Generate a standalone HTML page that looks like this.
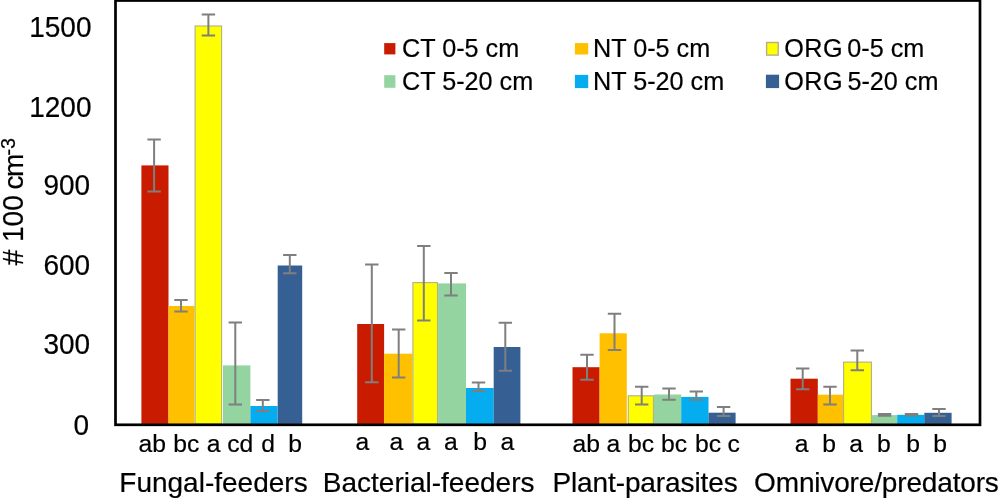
<!DOCTYPE html>
<html lang="en">
<head>
<meta charset="utf-8">
<title>Nematode feeding groups chart</title>
<style>
html,body{margin:0;padding:0;background:#fff;}
body{width:1000px;height:499px;overflow:hidden;}
svg{display:block;will-change:transform;}
text{font-family:"Liberation Sans",Arial,Helvetica,sans-serif;fill:#000;stroke:#000;stroke-width:0.2px;}
.tick{font-size:28px;text-anchor:end;}
.leg{font-size:25.2px;}
.let{font-size:24.7px;}
.cat{font-size:28px;}
.yl{font-size:28px;}
.sup{font-size:19.6px;}
</style>
</head>
<body>
<svg width="1000" height="499" viewBox="0 0 1000 499">
<rect x="0" y="0" width="1000" height="499" fill="#ffffff"/>

<g>
<rect x="141.40" y="165.40" width="27.10" height="258.50" fill="#c81b00"/>
<rect x="168.50" y="306.00" width="26.00" height="117.90" fill="#ffc000"/>
<rect x="195.10" y="26.00" width="26.50" height="398.00" fill="#ffff00" stroke="#b3b088" stroke-width="1.1"/>
<rect x="223.00" y="365.40" width="27.40" height="58.50" fill="#93d4a1"/>
<rect x="250.40" y="406.00" width="27.20" height="17.90" fill="#05acf0"/>
<rect x="277.70" y="265.50" width="24.50" height="158.40" fill="#365f93"/>
<rect x="357.20" y="324.00" width="26.90" height="99.90" fill="#c81b00"/>
<rect x="384.10" y="353.70" width="28.20" height="70.20" fill="#ffc000"/>
<rect x="412.90" y="282.60" width="24.60" height="141.40" fill="#ffff00" stroke="#b3b088" stroke-width="1.1"/>
<rect x="438.10" y="283.40" width="27.90" height="140.50" fill="#93d4a1"/>
<rect x="466.00" y="388.00" width="27.70" height="35.90" fill="#05acf0"/>
<rect x="493.70" y="347.00" width="26.70" height="76.90" fill="#365f93"/>
<rect x="572.50" y="367.20" width="27.10" height="56.70" fill="#c81b00"/>
<rect x="599.60" y="333.30" width="27.20" height="90.60" fill="#ffc000"/>
<rect x="628.30" y="395.80" width="25.10" height="28.20" fill="#ffff00" stroke="#b3b088" stroke-width="1.1"/>
<rect x="654.00" y="394.50" width="27.20" height="29.40" fill="#93d4a1"/>
<rect x="681.20" y="396.90" width="27.30" height="27.00" fill="#05acf0"/>
<rect x="708.50" y="412.70" width="27.10" height="11.20" fill="#365f93"/>
<rect x="790.50" y="378.70" width="27.30" height="45.20" fill="#c81b00"/>
<rect x="817.80" y="394.70" width="25.20" height="29.20" fill="#ffc000"/>
<rect x="843.60" y="362.10" width="27.80" height="61.90" fill="#ffff00" stroke="#b3b088" stroke-width="1.1"/>
<rect x="871.80" y="415.10" width="25.40" height="8.80" fill="#93d4a1"/>
<rect x="897.20" y="414.80" width="27.10" height="9.10" fill="#05acf0"/>
<rect x="924.30" y="412.80" width="27.30" height="11.10" fill="#365f93"/>
</g>
<g stroke="#7f7f7f" stroke-width="2" fill="none">
<path d="M154.10 139.40V191.40M147.40 139.40H160.80M147.40 191.40H160.80"/>
<path d="M181.00 300.00V311.60M174.30 300.00H187.70M174.30 311.60H187.70"/>
<path d="M208.40 14.60V35.40M201.70 14.60H215.10M201.70 35.40H215.10"/>
<path d="M235.30 322.60V404.60M228.60 322.60H242.00M228.60 404.60H242.00"/>
<path d="M262.80 400.00V411.00M256.10 400.00H269.50M256.10 411.00H269.50"/>
<path d="M289.80 255.00V273.20M283.10 255.00H296.50M283.10 273.20H296.50"/>
<path d="M371.80 264.40V382.20M365.10 264.40H378.50M365.10 382.20H378.50"/>
<path d="M398.70 329.50V377.60M392.00 329.50H405.40M392.00 377.60H405.40"/>
<path d="M423.80 246.00V320.60M417.10 246.00H430.50M417.10 320.60H430.50"/>
<path d="M451.00 273.00V295.60M444.30 273.00H457.70M444.30 295.60H457.70"/>
<path d="M478.50 382.40V391.00M471.80 382.40H485.20M471.80 391.00H485.20"/>
<path d="M505.30 322.80V370.70M498.60 322.80H512.00M498.60 370.70H512.00"/>
<path d="M587.00 354.70V379.70M580.30 354.70H593.70M580.30 379.70H593.70"/>
<path d="M614.50 313.80V350.00M607.80 313.80H621.20M607.80 350.00H621.20"/>
<path d="M641.70 386.80V404.60M635.00 386.80H648.40M635.00 404.60H648.40"/>
<path d="M669.00 388.60V399.80M662.30 388.60H675.70M662.30 399.80H675.70"/>
<path d="M696.30 391.40V399.80M689.60 391.40H703.00M689.60 399.80H703.00"/>
<path d="M723.60 407.10V415.90M716.90 407.10H730.30M716.90 415.90H730.30"/>
<path d="M802.70 368.40V389.20M796.00 368.40H809.40M796.00 389.20H809.40"/>
<path d="M830.00 386.70V404.50M823.30 386.70H836.70M823.30 404.50H836.70"/>
<path d="M857.30 350.40V370.30M850.60 350.40H864.00M850.60 370.30H864.00"/>
<path d="M884.60 414.00V415.80M877.90 414.00H891.30M877.90 415.80H891.30"/>
<path d="M911.50 413.90V415.60M904.80 413.90H918.20M904.80 415.60H918.20"/>
<path d="M939.00 409.10V416.00M932.30 409.10H945.70M932.30 416.00H945.70"/>
</g>
<rect x="115.5" y="0.5" width="864.5" height="424.3" fill="none" stroke="#000" stroke-width="2.7"/>
<text class="tick" transform="translate(91.50 36.70) scale(1 1.03)">1500</text>
<text class="tick" transform="translate(91.50 116.70) scale(1 1.03)">1200</text>
<text class="tick" transform="translate(90.10 195.30) scale(1 1.03)">900</text>
<text class="tick" transform="translate(90.10 275.30) scale(1 1.03)">600</text>
<text class="tick" transform="translate(90.10 354.20) scale(1 1.03)">300</text>
<text class="tick" transform="translate(89.00 434.60) scale(1 1.03)">0</text>
<text class="yl" transform="translate(23.30 265.30) rotate(-90) scale(1 1.04)"># 100</text>
<text class="yl" transform="translate(23.30 189.60) rotate(-90) scale(1 1.0)" textLength="36.02">cm</text>
<text class="sup" transform="translate(14.50 155.40) rotate(-90) scale(1 1.0)">-3</text>
<rect x="384.2" y="43.1" width="11.2" height="11.3" fill="#c81b00"/>
<rect x="384.2" y="75.2" width="11.2" height="12.6" fill="#93d4a1"/>
<rect x="574.9" y="43.1" width="13.3" height="11.4" fill="#ffc000"/>
<rect x="574.9" y="74.9" width="13.3" height="13.2" fill="#05acf0"/>
<rect x="766.60" y="42.50" width="11.60" height="12.60" fill="#ffff00" stroke="#b3b088" stroke-width="1.4"/>
<rect x="765.9" y="74.7" width="13.2" height="13.4" fill="#365f93"/>
<text class="leg" transform="translate(402.00 57.10) scale(1 1.03)">CT 0-5 cm</text>
<text class="leg" transform="translate(402.00 89.80) scale(1 1.03)">CT 5-20 cm</text>
<text class="leg" transform="translate(593.00 57.10) scale(1 1.03)">NT 0-5 cm</text>
<text class="leg" transform="translate(593.00 89.80) scale(1 1.03)">NT 5-20 cm</text>
<text class="leg" transform="translate(784.30 57.10) scale(1 1.03)" letter-spacing="0.4">ORG</text>
<text class="leg" transform="translate(847.30 57.10) scale(1 1.03)">0-5 cm</text>
<text class="leg" transform="translate(784.30 89.80) scale(1 1.03)" letter-spacing="0.4">ORG</text>
<text class="leg" transform="translate(847.40 89.80) scale(1 1.03)">5-20 cm</text>
<text class="let" transform="translate(138.40 451.50) scale(1 1.0)">ab</text>
<text class="let" transform="translate(173.36 451.50) scale(1 1.0)">bc</text>
<text class="let" transform="translate(206.85 451.50) scale(1 1.0)">a</text>
<text class="let" transform="translate(227.20 451.50) scale(1 1.0)">cd</text>
<text class="let" transform="translate(261.16 451.50) scale(1 1.0)">d</text>
<text class="let" transform="translate(288.26 451.50) scale(1 1.0)">b</text>
<text class="let" transform="translate(355.45 450.40) scale(1 1.0)">a</text>
<text class="let" transform="translate(389.45 450.40) scale(1 1.0)">a</text>
<text class="let" transform="translate(416.60 450.40) scale(1 1.0)">a</text>
<text class="let" transform="translate(444.05 450.40) scale(1 1.0)">a</text>
<text class="let" transform="translate(473.36 450.40) scale(1 1.0)">b</text>
<text class="let" transform="translate(500.45 450.40) scale(1 1.0)">a</text>
<text class="let" transform="translate(572.40 451.50) scale(1 1.0)">ab</text>
<text class="let" transform="translate(606.60 451.50) scale(1 1.0)">a</text>
<text class="let" transform="translate(628.06 451.50) scale(1 1.0)">bc</text>
<text class="let" transform="translate(661.06 451.50) scale(1 1.0)">bc</text>
<text class="let" transform="translate(695.06 451.50) scale(1 1.0)">bc</text>
<text class="let" transform="translate(727.50 451.50) scale(1 1.0)">c</text>
<text class="let" transform="translate(794.85 451.60) scale(1 1.0)">a</text>
<text class="let" transform="translate(822.31 451.60) scale(1 1.0)">b</text>
<text class="let" transform="translate(849.25 451.60) scale(1 1.0)">a</text>
<text class="let" transform="translate(876.91 451.60) scale(1 1.0)">b</text>
<text class="let" transform="translate(906.36 451.60) scale(1 1.0)">b</text>
<text class="let" transform="translate(933.31 451.60) scale(1 1.0)">b</text>
<text class="cat" transform="translate(119.30 491.50) scale(1 1.0)">Fungal-feeders</text>
<text class="cat" transform="translate(322.80 491.50) scale(1 1.0)">Bacterial-feeders</text>
<text class="cat" transform="translate(552.40 491.50) scale(1 1.0)" textLength="185.26">Plant-parasites</text>
<text class="cat" transform="translate(754.10 491.50) scale(1 1.0)" textLength="244.73">Omnivore/predators</text>
</svg>
</body>
</html>
